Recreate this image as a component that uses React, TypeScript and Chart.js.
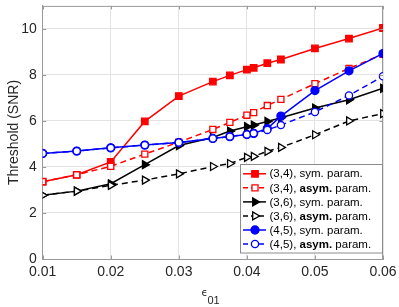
import React, { useEffect, useRef } from "react";
import { Chart, registerables } from "chart.js";

Chart.register(...registerables);

const xValues = [0.01, 0.015, 0.02, 0.025, 0.03, 0.035, 0.0375, 0.04, 0.041, 0.043, 0.045, 0.05, 0.055, 0.06];
const red34Sym = [3.36, 3.66, 4.22, 5.98, 7.08, 7.71, 7.98, 8.23, 8.31, 8.51, 8.67, 9.15, 9.58, 10.04];
const red34Asym = [3.36, 3.66, 4.03, 4.56, 5.08, 5.63, 5.94, 6.25, 6.36, 6.67, 6.94, 7.62, 8.28, 8.9];
const black36Sym = [2.77, 2.95, 3.27, 4.1, 4.93, 5.28, 5.56, 5.75, 5.82, 5.98, 6.14, 6.56, 6.92, 7.42];
const black36Asym = [2.77, 2.95, 3.2, 3.43, 3.7, 4.02, 4.15, 4.42, 4.46, 4.68, 4.85, 5.4, 6.0, 6.32];
const blue45Sym = [4.59, 4.69, 4.83, 4.95, 5.06, 5.24, 5.32, 5.41, 5.46, 5.67, 6.21, 7.32, 8.18, 8.93];
const blue45Asym = [4.59, 4.69, 4.83, 4.95, 5.06, 5.24, 5.32, 5.41, 5.46, 5.61, 5.82, 6.39, 7.11, 7.94];

const xTicks = [0.01, 0.02, 0.03, 0.04, 0.05, 0.06];
const xTickLabels = ["0.01", "0.02", "0.03", "0.04", "0.05", "0.06"];
const yTicks = [0, 2, 4, 6, 8, 10];
const yTickLabels = ["0", "2", "4", "6", "8", "10"];

const legendCodes = ["(3,4),", "(3,4),", "(3,6),", "(3,6),", "(4,5),", "(4,5),"];
const legendKinds = ["sym.", "asym.", "sym.", "asym.", "sym.", "asym."];

const FONT = "'Liberation Sans', Arial, Helvetica, sans-serif";
const AXIS_COLOR = "#9a9a9a";

type Spec = { color: string; style: string; open: boolean; dashed: boolean; radius: number };

const specs: Spec[] = [
  { color: "#ff0000", style: "rect", open: false, dashed: false, radius: 4.6 },
  { color: "#ff0000", style: "rect", open: true, dashed: true, radius: 4.3 },
  { color: "#000000", style: "triangle", open: false, dashed: false, radius: 4.6 },
  { color: "#000000", style: "triangle", open: true, dashed: true, radius: 4.6 },
  { color: "#0000ff", style: "circle", open: false, dashed: false, radius: 4 },
  { color: "#0000ff", style: "circle", open: true, dashed: true, radius: 3.6 },
];

const seriesList = [red34Sym, red34Asym, black36Sym, black36Asym, blue45Sym, blue45Asym];

function drawMarker(ctx: CanvasRenderingContext2D, s: Spec, x: number, y: number) {
  ctx.save();
  ctx.setLineDash([]);
  ctx.lineWidth = 1.3;
  ctx.strokeStyle = s.color;
  ctx.fillStyle = s.open ? "#ffffff" : s.color;
  ctx.beginPath();
  const r = s.radius;
  if (s.style === "rect") {
    const h = r * Math.SQRT1_2;
    ctx.rect(x - h, y - h, 2 * h, 2 * h);
  } else if (s.style === "circle") {
    ctx.arc(x, y, r, 0, Math.PI * 2);
  } else {
    for (let i = 0; i < 3; i++) {
      const a = Math.PI / 2 + (i * 2 * Math.PI) / 3;
      const px = x + Math.sin(a) * r;
      const py = y - Math.cos(a) * r;
      if (i === 0) ctx.moveTo(px, py);
      else ctx.lineTo(px, py);
    }
    ctx.closePath();
  }
  ctx.fill();
  ctx.stroke();
  ctx.restore();
}

const decorPlugin = {
  id: "decor",
  afterDatasetsDraw(chart: any) {
    const ctx: CanvasRenderingContext2D = chart.ctx;
    const { left, right, top, bottom } = chart.chartArea;
    const xs = chart.scales.x;
    const ys = chart.scales.y;
    // inward ticks
    ctx.save();
    ctx.strokeStyle = AXIS_COLOR;
    ctx.lineWidth = 1;
    ctx.beginPath();
    xTicks.forEach((v) => {
      const px = Math.round(xs.getPixelForValue(v)) + 0.5;
      ctx.moveTo(px, bottom);
      ctx.lineTo(px, bottom - 3.5);
      ctx.moveTo(px, top);
      ctx.lineTo(px, top + 3.5);
    });
    yTicks.forEach((v) => {
      const py = Math.round(ys.getPixelForValue(v)) + 0.5;
      ctx.moveTo(left, py);
      ctx.lineTo(left + 3.5, py);
      ctx.moveTo(right, py);
      ctx.lineTo(right - 3.5, py);
    });
    ctx.stroke();
    ctx.restore();

    // legend
    const bx = 240.5, by = 164.5, bw = 142, bh = 88.5;
    ctx.save();
    ctx.fillStyle = "#ffffff";
    ctx.fillRect(bx, by, bw, bh);
    ctx.strokeStyle = "#8c8c8c";
    ctx.lineWidth = 1;
    ctx.strokeRect(bx, by, bw, bh);
    const row0 = 173.8;
    const step = 14.05;
    specs.forEach((s, i) => {
      const y = row0 + i * step;
      ctx.save();
      ctx.strokeStyle = s.color;
      ctx.lineWidth = 1.5;
      ctx.setLineDash(s.dashed ? [5, 3] : []);
      ctx.beginPath();
      ctx.moveTo(243, y);
      ctx.lineTo(266, y);
      ctx.stroke();
      ctx.restore();
      drawMarker(ctx, s, 255, y);
      ctx.fillStyle = "#000000";
      ctx.textBaseline = "middle";
      ctx.textAlign = "left";
      let tx = 269.5;
      ctx.font = `11.5px ${FONT}`;
      const code = legendCodes[i] + " ";
      ctx.fillText(code, tx, y + 0.5);
      tx += ctx.measureText(code).width;
      const bold = legendKinds[i] === "asym.";
      ctx.font = `${bold ? "bold " : ""}11.5px ${FONT}`;
      const kind = legendKinds[i] + " ";
      ctx.fillText(kind, tx, y + 0.5);
      tx += ctx.measureText(kind).width;
      ctx.font = `11.5px ${FONT}`;
      ctx.fillText("param.", tx, y + 0.5);
    });
    ctx.restore();

    // x-axis title: epsilon with subscript 01
    ctx.save();
    ctx.fillStyle = "#262626";
    ctx.textBaseline = "middle";
    ctx.textAlign = "left";
    ctx.font = `10px 'DejaVu Sans', ${FONT}`;
    ctx.fillText("ϵ", 201.5, 293);
    ctx.font = `11px ${FONT}`;
    ctx.fillText("01", 207.5, 301);
    ctx.restore();
  },
};

export default function App() {
  const ref = useRef<HTMLCanvasElement | null>(null);

  useEffect(() => {
    document.body.style.margin = "0";
    const canvas = ref.current;
    if (!canvas) return;
    const datasets = seriesList.map((vals, i) => {
      const s = specs[i];
      return {
        label: legendCodes[i] + " " + legendKinds[i] + " param.",
        data: xValues.map((x, j) => ({ x, y: vals[j] })),
        borderColor: s.color,
        backgroundColor: s.color,
        borderWidth: 1.5,
        borderDash: s.dashed ? [6, 4] : [],
        pointStyle: s.style,
        pointRotation: s.style === "triangle" ? 90 : 0,
        pointRadius: s.radius,
        pointBorderWidth: 1.3,
        pointBackgroundColor: s.open ? "#ffffff" : s.color,
        pointBorderColor: s.color,
        order: 6 - i,
        tension: 0,
      };
    });

    const chart = new Chart(canvas, {
      type: "line",
      data: { datasets: datasets as any },
      options: {
        responsive: false,
        animation: false,
        devicePixelRatio: 1,
        layout: { padding: { left: 0, right: 16, top: 4, bottom: 0 } },
        plugins: {
          legend: { display: false },
          tooltip: { enabled: false },
          title: { display: false },
        },
        scales: {
          x: {
            type: "linear",
            min: 0.01,
            max: 0.06,
            afterBuildTicks: (s: any) => {
              s.ticks = xTicks.map((v) => ({ value: v }));
            },
            afterFit: (s: any) => {
              s.height = 48;
              s.paddingLeft = 0;
              s.paddingRight = 0;
            },
            ticks: {
              autoSkip: false,
              maxRotation: 0,
              padding: 5,
              color: "#262626",
              font: { family: FONT, size: 14 },
              callback: (v: any) => {
                const idx = xTicks.findIndex((t) => Math.abs(t - Number(v)) < 1e-9);
                return idx >= 0 ? xTickLabels[idx] : "";
              },
            },
            grid: { color: "#e3e3e3", drawTicks: false, lineWidth: 1 },
            border: { color: AXIS_COLOR, width: 1 },
          },
          y: {
            type: "linear",
            min: 0,
            max: 11,
            afterBuildTicks: (s: any) => {
              s.ticks = yTicks.map((v) => ({ value: v }));
            },
            afterFit: (s: any) => {
              s.width = 42.7;
              s.paddingTop = 0;
              s.paddingBottom = 0;
            },
            ticks: {
              autoSkip: false,
              padding: 6,
              color: "#262626",
              font: { family: FONT, size: 14 },
              callback: (v: any) => {
                const idx = yTicks.findIndex((t) => Math.abs(t - Number(v)) < 1e-9);
                return idx >= 0 ? yTickLabels[idx] : "";
              },
            },
            title: {
              display: true,
              text: "Threshold (SNR)",
              color: "#262626",
              font: { family: FONT, size: 14 },
              padding: { top: 6, bottom: 0 },
            },
            grid: { color: "#e3e3e3", drawTicks: false, lineWidth: 1 },
            border: { color: AXIS_COLOR, width: 1 },
          },
        },
      },
      plugins: [
        decorPlugin as any,
        {
          id: "topRightBorder",
          beforeDatasetsDraw(chart: any) {
            const c: CanvasRenderingContext2D = chart.ctx;
            const { left, right, top, bottom } = chart.chartArea;
            c.save();
            c.strokeStyle = AXIS_COLOR;
            c.lineWidth = 1;
            c.beginPath();
            c.moveTo(left, top + 0.5);
            c.lineTo(right, top + 0.5);
            c.moveTo(right - 0.5, top);
            c.lineTo(right - 0.5, bottom);
            c.stroke();
            c.restore();
          },
        },
      ],
    });
    return () => chart.destroy();
  }, []);

  return <canvas ref={ref} width={399} height={307} style={{ display: "block" }} />;
}
